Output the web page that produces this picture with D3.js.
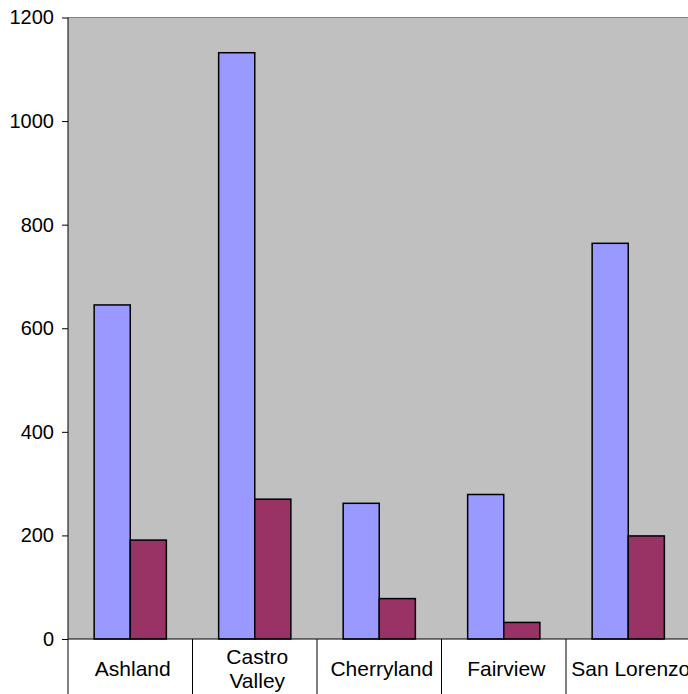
<!DOCTYPE html>
<html><head><meta charset="utf-8">
<script src="https://cdn.jsdelivr.net/npm/d3@7"></script>
<style>body{margin:0;background:#fff}svg{display:block}text{font-family:Arial,"Liberation Sans",sans-serif}</style>
</head><body>
<svg id="c" width="688" height="694"></svg>
<script>
const categories = ["Ashland", "Castro Valley", "Cherryland", "Fairview", "San Lorenzo"];
const seriesA = [645, 1132, 262, 279, 764];
const seriesB = [191, 270, 78, 32, 199];
const yTicks = [0, 200, 400, 600, 800, 1000, 1200];

const svg = d3.select("#c");
const L = 68, R = 690.5, T = 17.5, B = 639;
const x = d3.scaleBand().domain(categories).range([L, R]).paddingInner(0).paddingOuter(0);
const y = d3.scaleLinear().domain([0, 1200]).range([B, T]);
const bw = x.bandwidth();
const barW = bw * 0.29;

svg.append("rect").attr("x", L).attr("y", T).attr("width", R - L).attr("height", B - T).attr("fill", "#C0C0C0");
svg.append("line").attr("x1", L).attr("x2", 688).attr("y1", T).attr("y2", T).attr("stroke", "#808080").attr("stroke-width", 1);

const g = svg.append("g");
categories.forEach((c, i) => {
  const x0 = x(c) + (bw - 2 * barW) / 2;
  g.append("rect").attr("x", x0).attr("y", y(seriesA[i])).attr("width", barW).attr("height", B - y(seriesA[i]))
    .attr("fill", "#9999FF").attr("stroke", "#000").attr("stroke-width", 1.5);
  g.append("rect").attr("x", x0 + barW).attr("y", y(seriesB[i])).attr("width", barW).attr("height", B - y(seriesB[i]))
    .attr("fill", "#993366").attr("stroke", "#000").attr("stroke-width", 1.5);
});

// y axis
const ya = d3.axisLeft(y).tickValues(yTicks).tickSize(6).tickPadding(8).tickFormat(d3.format("d"));
const yg = svg.append("g").attr("transform", `translate(${L},0)`).call(ya);
yg.select(".domain").remove();
yg.selectAll(".tick line").attr("stroke", "#000");
yg.selectAll(".tick text").attr("font-size", 20).attr("fill", "#000").attr("font-family", "Arial, 'Liberation Sans', sans-serif");
svg.append("line").attr("x1", L).attr("x2", L).attr("y1", T).attr("y2", 694).attr("stroke", "#000");

// x axis baseline
svg.append("line").attr("x1", L).attr("x2", 688).attr("y1", B).attr("y2", B).attr("stroke", "#000");

// category separators
categories.forEach((c, i) => {
  if (i > 0) svg.append("line").attr("x1", x(c)).attr("x2", x(c)).attr("y1", B).attr("y2", 694).attr("stroke", "#000");
});

// category labels
categories.forEach(c => {
  const cx = x(c) + bw / 2 + 2.5;
  const lines = c === "Castro Valley" ? ["Castro", "Valley"] : [c];
  const t = svg.append("text").attr("x", cx).attr("text-anchor", "middle").attr("font-size", 21).attr("fill", "#000");
  if (lines.length === 1) {
    t.attr("y", 669).attr("dy", "0.35em").text(lines[0]);
  } else {
    lines.forEach((l, k) => t.append("tspan").attr("x", cx).attr("y", 657 + k * 24).attr("dy", "0.35em").text(l));
  }
});
</script>
</body></html>
